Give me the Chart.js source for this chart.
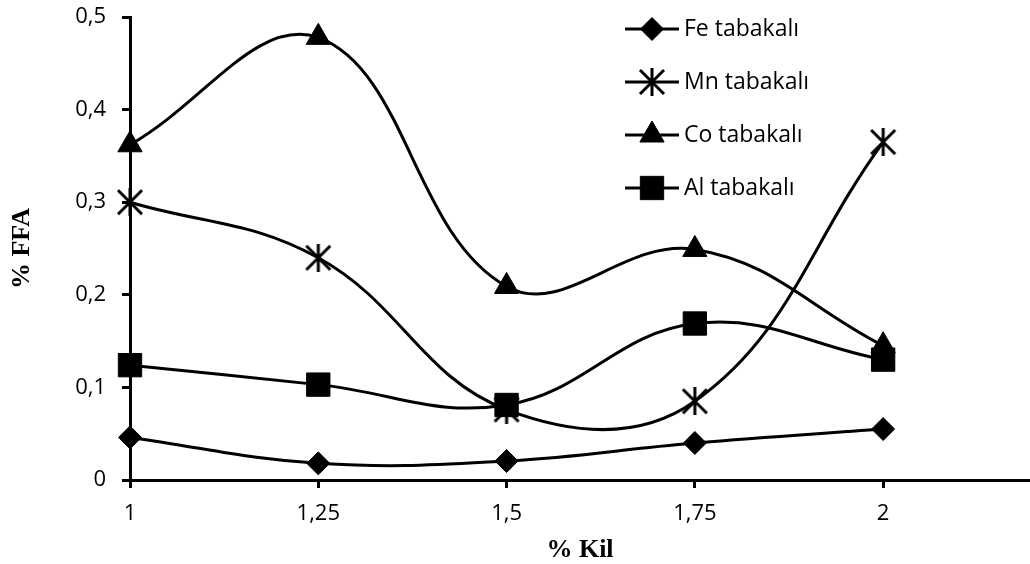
<!DOCTYPE html>
<html>
<head>
<meta charset="utf-8">
<script src="https://cdn.jsdelivr.net/npm/chart.js@4/dist/chart.umd.min.js"></script>
<style>
  html, body { margin: 0; padding: 0; background: #fff; }
  #wrap { width: 1030px; height: 564px; }
</style>
</head>
<body>
<div id="wrap"><canvas id="grafik" width="1030" height="564"></canvas></div>
<script>
// --- veriler ---
const kil = [1, 1.25, 1.5, 1.75, 2];
const feTabakali = [0.046, 0.018, 0.0205, 0.040, 0.055];
const mnTabakali = [0.300, 0.240, 0.076, 0.085, 0.365];
const coTabakali = [0.362, 0.478, 0.209, 0.249, 0.145];
const alTabakali = [0.124, 0.103, 0.081, 0.169, 0.130];
const seriAdlari = ['Fe tabakalı', 'Mn tabakalı', 'Co tabakalı', 'Al tabakalı'];

// yildiz isaretci (X + dikey cizgi), Excel'deki gibi
function yildizYap(boyut) {
    const c = document.createElement('canvas');
    c.width = boyut; c.height = boyut;
    const g = c.getContext('2d');
    const m = 2, s = boyut - 2;
    g.strokeStyle = '#000';
    g.lineWidth = 3;
    g.beginPath();
    g.moveTo(m, m); g.lineTo(s, s);
    g.moveTo(s, m); g.lineTo(m, s);
    g.moveTo(boyut / 2, 0); g.lineTo(boyut / 2, boyut);
    g.stroke();
    return c;
}
const yildiz = yildizYap(28);

function noktalar(dizi) {
    return kil.map((x, i) => ({ x: x, y: dizi[i] }));
}

function virgul(v) {
    return Number(v.toFixed(2)).toString().replace('.', ',');
}

const ortak = {
    borderColor: '#000',
    backgroundColor: '#000',
    pointBackgroundColor: '#000',
    pointBorderColor: '#000',
    borderWidth: 3,
    tension: 0.4,
    pointBorderWidth: 1,
    clip: false
};

// legend elle ciziliyor (cizgi + isaretci + yazi)
const elleLegend = {
    id: 'elleLegend',
    afterDraw(chart, args, opts) {
        const ctx = chart.ctx;
        ctx.save();
        chart.data.datasets.forEach((ds, i) => {
            const y = opts.y0 + i * opts.aralik;
            ctx.strokeStyle = '#000';
            ctx.lineWidth = 3;
            ctx.beginPath();
            ctx.moveTo(opts.x0, y);
            ctx.lineTo(opts.x1, y);
            ctx.stroke();
            ctx.fillStyle = '#000';
            ctx.strokeStyle = '#000';
            ctx.lineWidth = 1;
            Chart.helpers.drawPoint(ctx, {
                pointStyle: ds.pointStyle,
                radius: ds.pointRadius,
                borderWidth: 1,
                rotation: 0
            }, (opts.x0 + opts.x1) / 2, y);
            ctx.fillStyle = '#000';
            ctx.font = '23px "Open Sans"';
            ctx.textBaseline = 'middle';
            ctx.textAlign = 'left';
            ctx.fillText(ds.label, opts.metinX, y);
        });
        ctx.restore();
    }
};

new Chart(document.getElementById('grafik'), {
    type: 'line',
    data: {
        datasets: [
            { ...ortak, label: seriAdlari[0], data: noktalar(feTabakali), pointStyle: 'rectRot', pointRadius: 11.5, pointHoverRadius: 11.5 },
            { ...ortak, label: seriAdlari[1], data: noktalar(mnTabakali), pointStyle: yildiz, pointRadius: 14, pointHoverRadius: 14 },
            { ...ortak, label: seriAdlari[2], data: noktalar(coTabakali), pointStyle: 'triangle', pointRadius: 14, pointHoverRadius: 14 },
            { ...ortak, label: seriAdlari[3], data: noktalar(alTabakali), pointStyle: 'rect', pointRadius: 16.5, pointHoverRadius: 16.5 }
        ]
    },
    options: {
        responsive: false,
        animation: false,
        layout: { autoPadding: false, padding: { top: 17, right: 0, bottom: 0, left: 0 } },
        plugins: {
            legend: { display: false },
            tooltip: { enabled: false },
            elleLegend: { x0: 625, x1: 679, metinX: 684, y0: 29, aralik: 53 }
        },
        scales: {
            x: {
                type: 'linear',
                min: 1,
                max: 2.195,
                afterFit: (s) => {
                    s.height = 84;
                    s.paddingLeft = 0; s.paddingRight = 0;
                },
                ticks: {
                    stepSize: 0.25,
                    includeBounds: false,
                    autoSkip: false,
                    maxRotation: 0,
                    padding: 13,
                    color: '#000',
                    font: { family: 'Open Sans', size: 22 },
                    callback: (v) => virgul(v)
                },
                grid: { drawOnChartArea: false, drawTicks: true, tickLength: 8, color: '#000', lineWidth: 3 },
                border: { display: true, color: '#000', width: 3 },
                title: {
                    display: true,
                    text: '% Kil',
                    color: '#000',
                    font: { family: 'Liberation Serif', size: 26, weight: 'bold', lineHeight: 1 },
                    padding: { top: 0, bottom: 1 }
                }
            },
            y: {
                min: 0,
                max: 0.5,
                afterFit: (s) => {
                    s.width = 130;
                    s.paddingTop = 0; s.paddingBottom = 0;
                },
                ticks: {
                    stepSize: 0.1,
                    padding: 16,
                    color: '#000',
                    font: { family: 'Open Sans', size: 22 },
                    callback: (v) => virgul(v)
                },
                grid: { drawOnChartArea: false, drawTicks: true, tickLength: 8, color: '#000', lineWidth: 3 },
                border: { display: true, color: '#000', width: 3 },
                title: {
                    display: true,
                    text: '% FFA',
                    color: '#000',
                    font: { family: 'Liberation Serif', size: 26, weight: 'bold', lineHeight: 1 },
                    padding: { top: 9, bottom: 0 }
                }
            }
        }
    },
    plugins: [elleLegend]
});
</script>
</body>
</html>
